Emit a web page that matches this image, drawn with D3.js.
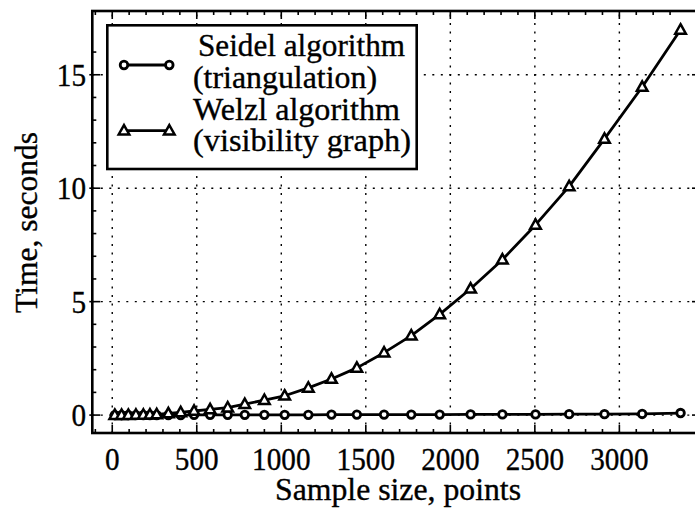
<!DOCTYPE html>
<html><head><meta charset="utf-8">
<script src="https://cdn.jsdelivr.net/npm/d3@7"></script>
<style>
html,body{margin:0;padding:0;background:#fff;}
svg{display:block;}
text{font-family:"Liberation Serif","Times New Roman",Times,serif;fill:#000;stroke:#000;stroke-width:0.35px;}
</style></head>
<body><svg id="chart" width="695" height="516"></svg>
<script>
// ---- data ----
const sampleSizes = [15, 55, 95, 140, 184, 223, 263, 332, 405, 484, 579, 683, 784, 900, 1020, 1160, 1297, 1447, 1608, 1769, 1937, 2120, 2308, 2504, 2703, 2912, 3135, 3362];
const seidelTimes = [0.00, 0.00, 0.00, 0.00, 0.00, 0.00, 0.00, 0.00, 0.00, 0.01, 0.01, 0.01, 0.01, 0.01, 0.01, 0.01, 0.02, 0.02, 0.02, 0.02, 0.02, 0.03, 0.03, 0.03, 0.04, 0.04, 0.05, 0.09];
const welzlTimes  = [0.00, 0.00, 0.00, 0.01, 0.01, 0.02, 0.03, 0.07, 0.12, 0.18, 0.25, 0.33, 0.48, 0.66, 0.85, 1.20, 1.59, 2.08, 2.75, 3.50, 4.44, 5.57, 6.85, 8.38, 10.08, 12.17, 14.46, 16.98];
const xMajorTicks = [0, 500, 1000, 1500, 2000, 2500, 3000];
const xTickLabels = ["0", "500", "1000", "1500", "2000", "2500", "3000"];
const xMinorTicks = [-100, 100, 200, 300, 400, 600, 700, 800, 900, 1100, 1200, 1300, 1400, 1600, 1700, 1800, 1900, 2100, 2200, 2300, 2400, 2600, 2700, 2800, 2900, 3100, 3200, 3300];
const yMajorTicks = [0, 5, 10, 15];
const yTickLabels = ["0", "5", "10", "15"];
const yMinorTicks = [1, 2, 3, 4, 6, 7, 8, 9, 11, 12, 13, 14, 16];
const seriesNames = [["Seidel algorithm", "(triangulation)"], ["Welzl algorithm", "(visibility graph)"]];
const xTitle = "Sample size, points";
const yTitle = "Time, seconds";

// ---- layout ----
const svg = d3.select("#chart");
const L = 92.3, R = 700, T = 11, B = 433;
const x = d3.scaleLinear().domain([-118, 3477]).range([L, R]);
const y = d3.scaleLinear().domain([-0.79, 17.81]).range([B, T]);
const FS = 32;
const DIGIT_W = 14.6;

function fitText(sel, w){ return sel.attr("textLength", w).attr("lengthAdjust", "spacingAndGlyphs"); }

// grid
const grid = svg.append("g").attr("stroke", "#000").attr("stroke-width", 1.4).attr("stroke-dasharray", "2,6.5");
grid.selectAll(".gx").data(xMajorTicks).join("line")
  .attr("x1", d => x(d)).attr("x2", d => x(d)).attr("y1", B).attr("y2", T);
grid.selectAll(".gy").data(yMajorTicks).join("line")
  .attr("y1", d => y(d)).attr("y2", d => y(d)).attr("x1", L).attr("x2", R);

// ticks
const tk = svg.append("g").attr("stroke", "#000").attr("stroke-width", 1.6);
function vt(vals, len){
  tk.append("g").selectAll("line").data(vals).join("line")
    .attr("x1", d => x(d)).attr("x2", d => x(d)).attr("y1", B).attr("y2", B - len);
  tk.append("g").selectAll("line").data(vals).join("line")
    .attr("x1", d => x(d)).attr("x2", d => x(d)).attr("y1", T).attr("y2", T + len);
}
function ht(vals, len){
  tk.append("g").selectAll("line").data(vals).join("line")
    .attr("y1", d => y(d)).attr("y2", d => y(d)).attr("x1", L).attr("x2", L + len);
  tk.append("g").selectAll("line").data(vals).join("line")
    .attr("y1", d => y(d)).attr("y2", d => y(d)).attr("x1", R).attr("x2", R - len);
}
vt(xMajorTicks, 8); vt(xMinorTicks, 4);
ht(yMajorTicks, 8); ht(yMinorTicks, 4);
tk.append("g").selectAll("line").data(yMajorTicks).join("line")
  .attr("y1", d => y(d)).attr("y2", d => y(d)).attr("x1", L - 3).attr("x2", L);

// frame
svg.append("rect").attr("x", L).attr("y", T).attr("width", R - L).attr("height", B - T)
  .attr("fill", "none").attr("stroke", "#000").attr("stroke-width", 2.6);

// tick labels
svg.append("g").selectAll("text").data(xMajorTicks).join("text")
  .attr("x", d => x(d)).attr("y", 470).attr("text-anchor", "middle").attr("font-size", FS)
  .attr("textLength", (d, i) => DIGIT_W * xTickLabels[i].length).attr("lengthAdjust", "spacingAndGlyphs")
  .text((d, i) => xTickLabels[i]);
svg.append("g").selectAll("text").data(yMajorTicks).join("text")
  .attr("x", 86).attr("y", d => y(d) + 11).attr("text-anchor", "end").attr("font-size", FS)
  .attr("textLength", (d, i) => DIGIT_W * yTickLabels[i].length).attr("lengthAdjust", "spacingAndGlyphs")
  .text((d, i) => yTickLabels[i]);

// axis titles
fitText(svg.append("text").attr("x", 398).attr("y", 500).attr("text-anchor", "middle").attr("font-size", FS).text(xTitle), 246);
fitText(svg.append("text").attr("transform", "translate(37,222.5) rotate(-90)").attr("text-anchor", "middle").attr("font-size", FS).text(yTitle), 181);

// series
const line = (vals) => d3.line().x((d, i) => x(sampleSizes[i])).y(d => y(d))(vals);
const plot = svg.append("g");
const triPath = "M0,-5.6L5.3,3.8L-5.3,3.8Z";
function drawSeries(vals, marker){
  plot.append("path").attr("d", line(vals)).attr("fill", "none").attr("stroke", "#000").attr("stroke-width", 2.8).attr("stroke-linejoin", "round");
  const g = plot.append("g");
  if (marker === "circle") {
    g.selectAll("circle").data(vals).join("circle")
      .attr("cx", (d, i) => x(sampleSizes[i])).attr("cy", d => y(d)).attr("r", 3.8)
      .attr("fill", "#fff").attr("stroke", "#000").attr("stroke-width", 2.8);
  } else {
    g.selectAll("path").data(vals).join("path")
      .attr("transform", (d, i) => `translate(${x(sampleSizes[i])},${y(d)})`).attr("d", triPath)
      .attr("fill", "#fff").attr("stroke", "#000").attr("stroke-width", 2.5);
  }
}
drawSeries(seidelTimes, "circle");
drawSeries(welzlTimes, "triangle");

// legend
const lg = svg.append("g");
lg.append("rect").attr("x", 107.3).attr("y", 25.3).attr("width", 309.4).attr("height", 143.7)
  .attr("fill", "#fff").attr("stroke", "#000").attr("stroke-width", 2.6);
const legY = [65, 130.7];
[0, 1].forEach(k => {
  lg.append("line").attr("x1", 124).attr("x2", 169.3).attr("y1", legY[k]).attr("y2", legY[k]).attr("stroke", "#000").attr("stroke-width", 2.8);
  [124, 169.3].forEach(px => {
    if (k === 0) lg.append("circle").attr("cx", px).attr("cy", legY[k]).attr("r", 3.8).attr("fill", "#fff").attr("stroke", "#000").attr("stroke-width", 2.8);
    else lg.append("path").attr("transform", `translate(${px},${legY[k]})`).attr("d", triPath).attr("fill", "#fff").attr("stroke", "#000").attr("stroke-width", 2.5);
  });
});
fitText(lg.append("text").attr("x", 198).attr("y", 56).attr("font-size", FS).text(seriesNames[0][0]), 207);
fitText(lg.append("text").attr("x", 193).attr("y", 88).attr("font-size", FS).text(seriesNames[0][1]), 184);
fitText(lg.append("text").attr("x", 193).attr("y", 120).attr("font-size", FS).text(seriesNames[1][0]), 207);
fitText(lg.append("text").attr("x", 193).attr("y", 151).attr("font-size", FS).text(seriesNames[1][1]), 218);
</script></body></html>
